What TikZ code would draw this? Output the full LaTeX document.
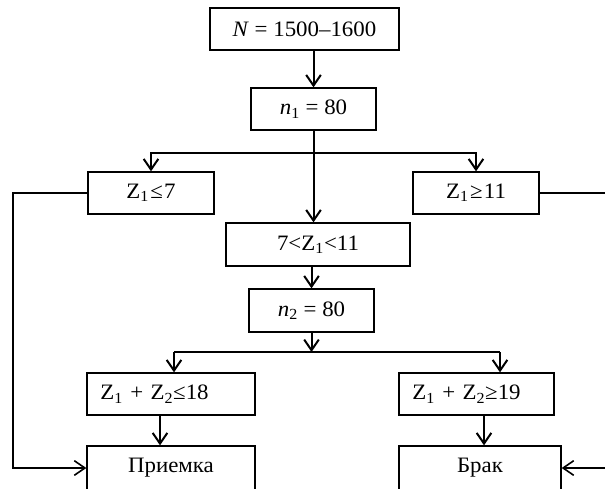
\documentclass[tikz,border=0pt]{standalone}
\usepackage{fontspec}
\setmainfont[FakeStretch=1.04]{Liberation Serif}
\usetikzlibrary{arrows.meta, positioning}

\begin{document}
\begin{tikzpicture}[x=0.75pt, y=-0.75pt, >={Straight Barb[length=8pt,width=11pt]},
    font=\fontsize{16.5}{19}\selectfont,
    blk/.style={draw, line width=1pt, minimum height=31.5pt, inner sep=0pt, align=center},
    lblk/.style={blk, inner xsep=10pt, align=left},
    conn/.style={->, line width=1.5pt}]
    \useasboundingbox (0,0) rectangle (605,488);
    \clip (0,0) rectangle (605,488);
    \node[blk, minimum width=141.75pt] (N) at (304.5,29) {\textit{N} = 1500–1600};
    \node[blk, minimum width=93.75pt] (n1) at (313.5,109) {\textit{n}\textsubscript{1} = 80};
    \node[blk, minimum width=94.5pt] (le7) at (151,193) {Z\textsubscript{1}\kern1pt≤\kern1pt7};
    \node[blk, minimum width=94.5pt] (ge11) at (476,193) {Z\textsubscript{1}\kern1pt≥\kern1pt11};
    \node[blk, minimum width=138pt, minimum height=32.25pt] (mid) at (318,244.5) {7<Z\textsubscript{1}<11};
    \node[blk, minimum width=93.75pt, minimum height=32.25pt] (n2) at (311.5,310.5) {\textit{n}\textsubscript{2} = 80};
    \node[lblk, text width=106pt] (s18) at (171,394) {Z\textsubscript{1} + Z\textsubscript{2}≤18};
    \node[lblk, text width=96.25pt] (s19) at (476.5,394) {Z\textsubscript{1} + Z\textsubscript{2}≥19};
    \node[blk, minimum width=126pt, minimum height=33pt] (priem) at (171,468) {Приемка};
    \node[blk, minimum width=121.5pt, minimum height=33pt] (brak) at (480,468) {Брак};

    \coordinate (br1) at (313.5,153);
    \coordinate (br2) at (311.5,352);
    \coordinate (b2l) at (174,352);
    \coordinate (b2r) at (500,352);
    \coordinate (lft) at (13,193);
    \coordinate (rgt) at (620,193);
    \coordinate (a18) at (160,0);
    \coordinate (a19) at (484,0);

    \draw[conn] (N.south -| n1.north) -- (n1.north);
    \draw[conn] (n1.south) -- (n1.south |- mid.north);
    \draw[conn] (br1) -| (le7.north);
    \draw[conn] (br1) -| (ge11.north);
    \draw[conn] (mid.south -| n2.north) -- (n2.north);
    \draw[conn] (n2.south) -- (br2);
    \draw[line width=1.5pt] (b2l) -- (b2r);
    \draw[conn] (b2l) -- (b2l |- s18.north);
    \draw[conn] (b2r) -- (b2r |- s19.north);
    \draw[conn] (s18.south -| a18) -- (priem.north -| a18);
    \draw[conn] (s19.south -| a19) -- (brak.north -| a19);
    \draw[conn, line width=1.2pt] (le7.west) -| (lft |- priem.west) -- (priem.west);
    \draw[conn, line width=1.2pt] (ge11.east) -| (rgt |- brak.east) -- (brak.east);
\end{tikzpicture}
\end{document}
